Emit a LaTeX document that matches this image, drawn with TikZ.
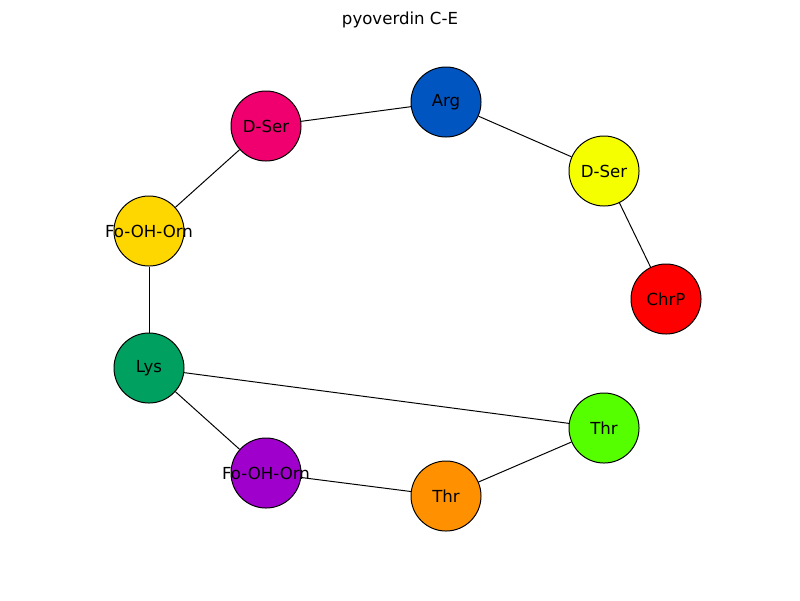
\documentclass[tikz,border=0pt]{standalone}
\usepackage{fontspec}
\setmainfont{DejaVu Sans}
\usepackage{tikz}
\usetikzlibrary{positioning}
\definecolor{cpink}{HTML}{F0006E}
\definecolor{cblue}{HTML}{0055C0}
\definecolor{cyellow}{HTML}{F5FF00}
\definecolor{cgold}{HTML}{FFD700}
\definecolor{cred}{HTML}{FF0000}
\definecolor{cgreen}{HTML}{00A060}
\definecolor{clime}{HTML}{55FF00}
\definecolor{cpurple}{HTML}{A000CC}
\definecolor{corange}{HTML}{FF9000}
\tikzset{
    aanode/.style = {circle, draw=black, line width=0.7pt, inner sep=0pt, minimum size=1.75cm, font=\fontsize{11.8}{14}\selectfont},
    edgen/.style = {black, line width=0.7pt},
}

\begin{document}
\begin{tikzpicture}[x=0.025cm,y=-0.025cm]
  \useasboundingbox (0,0) rectangle (800,600);
  \node (title) at (400,20) {\fontsize{11.8}{14}\selectfont pyoverdin C-E};

  \node[aanode,fill=cblue] (arg) at (446,102) {Arg};
  \node[aanode,fill=cpink] (dser1) at (266,126) {D-Ser};
  \node[aanode,fill=cyellow] (dser2) at (604,171) {D-Ser};
  \node[aanode,fill=cgold] (orn1) at (149,231) {\makebox[0pt]{Fo-OH-Orn}};
  \node[aanode,fill=cred] (chrp) at (666,299) {ChrP};
  \node[aanode,fill=cgreen] (lys) at (149,368) {Lys};
  \node[aanode,fill=clime] (thr1) at (604,428) {Thr};
  \node[aanode,fill=cpurple] (orn2) at (266,473) {\makebox[0pt]{Fo-OH-Orn}};
  \node[aanode,fill=corange] (thr2) at (446,496) {Thr};

  \draw[edgen] (dser1) -- (arg);
  \draw[edgen] (arg) -- (dser2);
  \draw[edgen] (dser2) -- (chrp);
  \draw[edgen] (dser1) -- (orn1);
  \draw[edgen] (orn1) -- (lys);
  \draw[edgen] (lys) -- (thr1);
  \draw[edgen] (lys) -- (orn2);
  \draw[edgen] (orn2) -- (thr2);
  \draw[edgen] (thr2) -- (thr1);

\end{tikzpicture}
\end{document}
